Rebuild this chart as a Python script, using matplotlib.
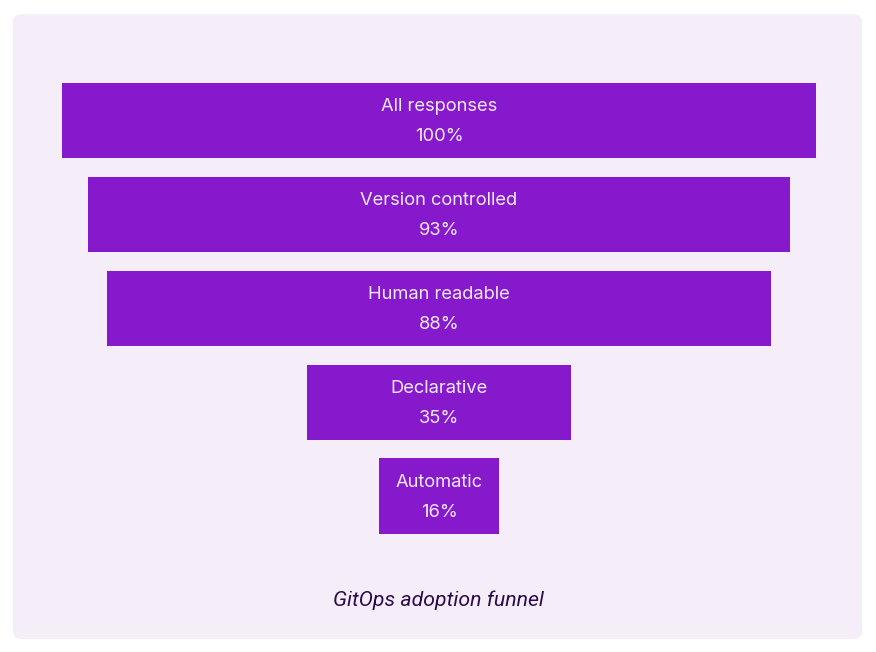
import matplotlib
matplotlib.use("Agg")
import matplotlib.pyplot as plt
from matplotlib.patches import FancyBboxPatch

categories = ["All responses", "Version controlled", "Human readable", "Declarative", "Automatic"]
values = [100, 93, 88, 35, 16]
value_labels = ["100%", "93%", "88%", "35%", "16%"]
caption = "GitOps adoption funnel"

W, H = 876, 652
fig = plt.figure(figsize=(W / 100, H / 100), dpi=100)
fig.patch.set_facecolor("white")

# background panel
panel = FancyBboxPatch((13 / W, 13 / H), (862 - 13) / W, (638 - 13) / H,
                       boxstyle="round,pad=0,rounding_size=0.011",
                       transform=fig.transFigure, facecolor="#f5edf8",
                       edgecolor="none", zorder=-10)
fig.patches.append(panel)

top_px, bot_px = 73.5, 543
ax = fig.add_axes([62 / W, 1 - bot_px / H, 754 / W, (bot_px - top_px) / H])
ax.set_zorder(1)
ax.set_facecolor("none")
ax.set_xlim(-50, 50)
ax.set_ylim(len(values) - 0.5, -0.5)
ax.axis("off")

ys = list(range(len(values)))
ax.barh(ys, values, left=[-v / 2 for v in values], height=0.8,
        color="#8619cb", edgecolor="none")

for y, cat, lab in zip(ys, categories, value_labels):
    ax.annotate(cat, (0, y), xytext=(0, 9.8), textcoords="offset points",
                ha="center", va="center", color="#f4e9fb",
                fontsize=13.2, family="Inter")
    ax.annotate(lab, (0, y), xytext=(0, -11.5), textcoords="offset points",
                ha="center", va="center", color="#f4e9fb",
                fontsize=13.2, family="Inter")

fig.text(438 / W, 1 - 600 / H, caption, ha="center", va="center",
         fontsize=15.3, family="Roboto", style="italic", color="#2b0b4d")

fig.savefig("out.png", dpi=100, facecolor="white")
